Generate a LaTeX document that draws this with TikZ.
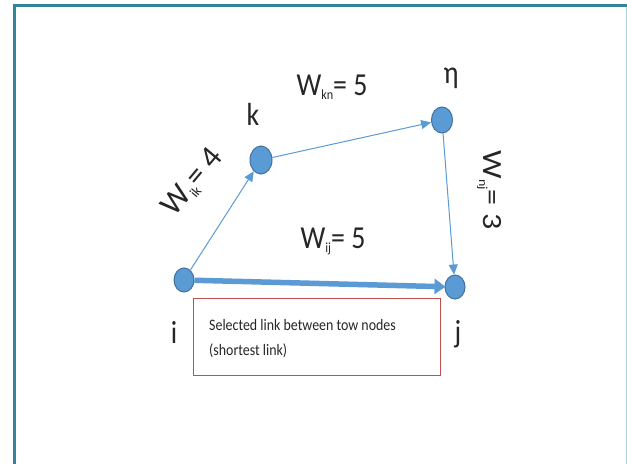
\documentclass[tikz,border=0pt]{standalone}
\usepackage{fontspec}
\setmainfont{Carlito}
\usetikzlibrary{shapes.geometric,arrows.meta}
\definecolor{frameteal}{HTML}{31849B}
\definecolor{framelight}{HTML}{A5D5E2}
\definecolor{nodeblue}{HTML}{5B9BD5}
\definecolor{nodeedge}{HTML}{41719C}
\definecolor{edgeblue}{HTML}{5B9BD5}
\definecolor{boxred}{HTML}{C0504D}
\definecolor{txtgray}{HTML}{262626}
\newcommand{\wsub}[1]{\raisebox{-0.3ex}{\fontsize{14}{14}\selectfont #1}}
\newcommand{\sq}[1]{\scalebox{0.87}[1]{#1}}
\tikzset{
  vtx/.style={ellipse, fill=nodeblue, draw=nodeedge, line width=1pt, minimum width=20pt, minimum height=24pt, inner sep=0pt},
  lbl/.style={font=\fontsize{32}{34}\selectfont, text=txtgray, inner sep=0pt, anchor=base},
  wlbl/.style={font=\fontsize{32}{34}\selectfont, text=txtgray, inner sep=0pt},
  thinarrow/.style={draw=edgeblue, line width=1pt, -{Triangle[length=10pt,width=9pt]}},
  thickarrow/.style={draw=edgeblue, line width=5.5pt, -{Triangle[length=11pt,width=15pt]}, shorten >=-1pt},
  notebox/.style={draw=boxred, line width=1pt, minimum width=247pt, minimum height=77pt, inner sep=0pt},
  notetxt/.style={anchor=west, font=\fontsize{16}{18}\selectfont, text=txtgray, inner sep=0pt}
}
\begin{document}
\begin{tikzpicture}[x=1pt,y=-1pt]
\useasboundingbox (0,0) rectangle (627,464);
\fill[white] (0,0) rectangle (627,464);
% frame
\draw[framelight, line width=1pt] (626,5) -- (626,464);
\draw[frameteal, line width=3pt] (14,464) -- (14,5) -- (627,5);
% note box
\node[notebox] (box) at (316.5,336.5) {};
\node[notetxt] (t1) at (209,325) {\sq{Selected link between tow nodes}};
\node[notetxt] (t2) at (209,351) {\sq{(shortest link)}};
% vertices
\node[vtx] (i) at (184,280) {};
\node[vtx] (j) at (455,287) {};
\node[vtx, minimum width=22pt, minimum height=28pt] (k) at (261,160) {};
\node[vtx, minimum width=21pt, minimum height=26pt] (n) at (442,120) {};
% vertex labels
\node[lbl] (li) at (174,343) {\sq{i}};
\node[lbl] (lj) at (458,342) {\sq{j}};
\node[lbl] (lk) at (253,125) {\sq{k}};
\node[lbl] (ln) at (451,83) {\sq{η}};
% edges
\draw[thinarrow] (i) -- (k);
\draw[thinarrow] (k) -- (n);
\draw[thinarrow] (n) -- (j);
\draw[thickarrow] (i) -- (j);
% weight labels
\node[wlbl, anchor=base] (wkn) at (332,95) {\sq{W\wsub{kn}= 5}};
\node[wlbl, rotate=50] (wik) at (193,183) {W\wsub{ik}= 4};
\node[wlbl, rotate=-90] (wnj) at (489,190) {\scalebox{1}[0.87]{W\wsub{nj}= 3}};
\node[wlbl, anchor=base] (wij) at (333,248) {\sq{W\wsub{ij}= 5}};
\end{tikzpicture}
\end{document}
